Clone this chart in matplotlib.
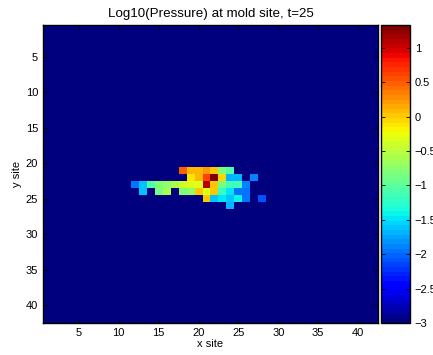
import numpy as np
import matplotlib
matplotlib.use("Agg")
import matplotlib.pyplot as plt

plt.rcParams['font.family'] = ['Liberation Sans', 'DejaVu Sans']
plt.rcParams['font.size'] = 8

n = 42
bakgrunn = -3.0

# cells that are not background: (row, column, log10 pressure), 1-indexed
rader = [21, 21, 21, 21, 21, 21, 21,
         22, 22, 22, 22, 22, 22, 22, 22,
         23, 23, 23, 23, 23, 23, 23, 23, 23, 23, 23, 23, 23, 23, 23,
         24, 24, 24, 24, 24, 24, 24, 24, 24, 24, 24, 24,
         25, 25, 25, 25, 25, 25, 25,
         26]
kolonner = [18, 19, 20, 21, 22, 23, 24,
            19, 20, 21, 22, 23, 24, 25, 27,
            12, 13, 14, 15, 16, 17, 18, 19, 20, 21, 22, 23, 24, 25, 26,
            13, 15, 16, 18, 19, 20, 21, 22, 23, 24, 25, 26,
            21, 22, 23, 24, 25, 26, 28,
            24]
verdier = [0.47, 0.1, 0.1, 0.2, 0.0, -0.77, -1.1,
           -0.1, 0.1, 0.6, 1.33, -0.05, -1.65, -1.65, -1.85,
           -1.98, -1.6, -1.1, -0.83, -0.7, -0.57, -0.42, -0.35, -0.35, 1.1, 0.0, -0.9, -1.17, -1.17, -1.9,
           -1.6, -0.9, -0.57, -0.77, -0.7, 0.0, -0.35, 0.0, -1.2, -1.45, -1.92, -1.92,
           0.0, -1.6, -1.45, -1.62, -1.38, -1.92, -2.12,
           -1.7]

trykk = np.full((n, n), bakgrunn)
for r, k, v in zip(rader, kolonner, verdier):
    trykk[r - 1, k - 1] = v

fig = plt.figure(figsize=(4.33, 3.55), dpi=100)
ax = fig.add_axes([43 / 433, 1 - 323 / 355, 335 / 433, 298 / 355])
cax = fig.add_axes([381 / 433, 1 - 323 / 355, 29 / 433, 298 / 355])

im = ax.imshow(trykk, cmap=plt.get_cmap('jet', 64), vmin=-3, vmax=1.33,
               extent=(0.5, n + 0.5, n + 0.5, 0.5), aspect='auto',
               interpolation='nearest')

ax.set_xticks(range(5, 41, 5))
ax.set_yticks(range(5, 41, 5))
ax.tick_params(direction='in', top=True, right=True, length=3, width=0.6)
ax.set_xlabel("x site", labelpad=1)
ax.set_ylabel("y site", labelpad=3)
ax.set_title("Log10(Pressure) at mold site, t=25", pad=6)

cb = fig.colorbar(im, cax=cax)
cb.set_ticks([-3, -2.5, -2, -1.5, -1, -0.5, 0, 0.5, 1])
cb.ax.set_yticklabels(['\u22123', '\u22122.5', '\u22122', '\u22121.5', '\u22121',
                       '\u22120.5', '0', '0.5', '1'])
cb.ax.tick_params(direction='in', length=3, width=0.6, left=True)
cb.outline.set_linewidth(1.0)
for s in ax.spines.values():
    s.set_linewidth(1.0)

fig.savefig("out.png", dpi=100)
